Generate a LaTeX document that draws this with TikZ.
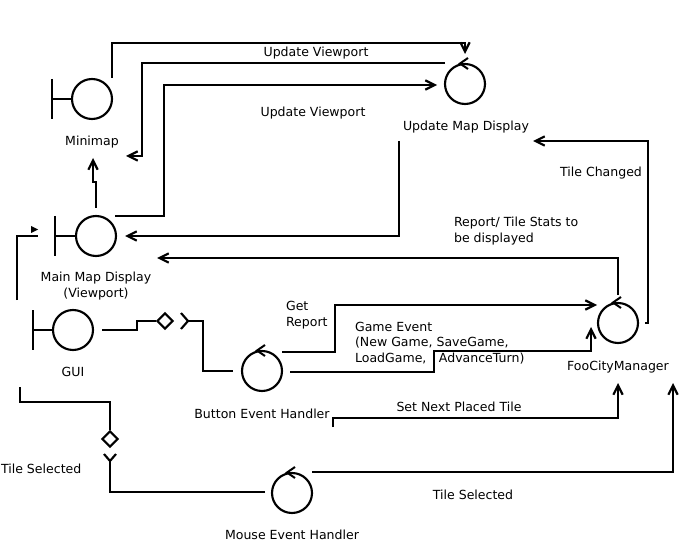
\documentclass[tikz,border=0pt]{standalone}
\usepackage{fontspec}
\setmainfont{DejaVu Sans}
\usetikzlibrary{arrows.meta,calc,shapes.geometric}
\begin{document}
\begin{tikzpicture}[x=0.75pt,y=-0.75pt,
  line width=1.6pt,
  every node/.style={font=\fontsize{9.4}{11.7}\selectfont, inner sep=0pt},
  circ/.style={circle,draw,minimum size=30pt,line width=1.6pt},
  dia/.style={diamond,draw,minimum size=12pt,line width=1.6pt},
  arr/.style={-{Straight Barb[length=7pt,width=7pt]}},
  ctl/.style={line width=1.5pt}
]
\useasboundingbox (0,0) rectangle (682,549);

% entities
\node[circ] (mini) at (92,99) {};
\node[circ] (main) at (96,236) {};
\node[circ] (gui) at (73,330) {};
\node[circ] (umd) at (465,84) {};
\node[circ] (foo) at (618,323) {};
\node[circ] (bev) at (262,371) {};
\node[circ] (mev) at (292,493) {};
\node[dia] (d1) at (165,321) {};
\node[dia] (d2) at (110,439) {};

% boundary bars
\foreach \n in {mini,gui}{
  \draw ($(\n)+(-40,-20)$) -- ($(\n)+(-40,20)$);
  \draw ($(\n)+(-40,0)$) -- (\n.west);
}
\draw ($(main)+(-41,-20)$) -- ($(main)+(-41,20)$);
\draw ($(main)+(-41,0)$) -- (main.west);

% control arrowheads
\foreach \n in {umd,foo,bev,mev}{
  \draw[ctl] ($(\n)+(3,-26)$) -- ($(\n)+(-5,-20.5)$) -- ($(\n)+(3,-15)$);
}

% labels
\node (lmini) at (92,142) {Minimap};
\node[align=center] (lmain) at (96,286) {Main Map Display\\(Viewport)};
\node (lgui) at (73,372) {GUI};
\node (lumd) at (466,127) {Update Map Display};
\node (lfoo) at (618,367) {FooCityManager};
\node (lbev) at (262,414) {Button Event Handler};
\node (lmev) at (292,535) {Mouse Event Handler};
\node (uv1) at (316,53) {Update Viewport};
\node (uv2) at (313,113) {Update Viewport};
\node (tc) at (601,173) {Tile Changed};
\node[anchor=west,align=left] (rep) at (453,231) {Report/ Tile Stats to\\be displayed};
\node[anchor=west,align=left] (gr) at (285,315) {Get\\Report};
\node[anchor=west,align=left] (ge) at (354,343) {Game Event\\(New Game, SaveGame,\\LoadGame,\hspace{1em}AdvanceTurn)};
\node (snt) at (459,407) {Set Next Placed Tile};
\node (ts1) at (473,495) {Tile Selected};
\node[anchor=west] (ts2) at (0,469) {Tile Selected};

% connectors
\draw[arr] ($(mini)+(20,-21)$) -- ++(0,-35) -| ($(umd)+(0,-30)$);
\draw[arr] ($(umd)+(-20,-21)$) -| ($(mini)+(50,57)$) -- ($(mini)+(34,57)$);
\draw[arr] ($(main)+(19,-20)$) -| ($(umd)+(-301,1)$) -- ($(umd)+(-28,1)$);
\draw[arr] ($(main)+(0,-28)$) -- ++(0,-26) -- ++(-3,0) -- ++(0,-24);
\draw[arr] ($(umd)+(-66,57)$) |- ($(main)+(29,0)$);
\draw[arr] ($(foo)+(0,-28)$) |- ($(main)+(61,22)$);
\draw[arr] ($(foo)+(27,0)$) -- ++(3,0) |- ($(umd)+(68,57)$);

% small arrow at left
\draw ($(gui)+(-56,-30)$) |- ($(main)+(-58,0)$);
\fill ($(main)+(-65,-10)$) -- ($(main)+(-58,-6.5)$) -- ($(main)+(-65,-3)$) -- cycle;

% GUI -> Button Event Handler
\draw ($(gui)+(29,0)$) -- ++(35,0) |- (d1.west);
\draw ($(d1)+(16,-8)$) -- ($(d1)+(23,0)$) -- ($(d1)+(16,8)$);
\draw ($(d1)+(23,0)$) -- ++(15,0) |- ($(bev)+(-29,0)$);

% Mouse Event Handler -> GUI
\draw ($(mev)+(-27,-1)$) -| ($(d2)+(0,22)$);
\draw ($(d2)+(-6,15)$) -- ($(d2)+(0,22)$) -- ($(d2)+(6,15)$);
\draw (d2.north) |- ($(gui)+(-53,72)$) -- ($(gui)+(-53,57)$);

% Button -> FooCityManager
\draw[arr] ($(bev)+(20,-19)$) -- ++(53,0) |- ($(foo)+(-21,-18)$);
\draw[arr] ($(bev)+(28,1)$) -- ++(144,0) -- ++(0,-21) -| ($(foo)+(-27,4)$);
\draw[arr] ($(bev)+(71,56)$) |- ($(foo)+(0,95)$) -- ($(foo)+(0,60)$);

% Mouse -> FooCityManager
\draw[arr] ($(mev)+(20,-21)$) -| ($(foo)+(55,60)$);
\end{tikzpicture}
\end{document}
